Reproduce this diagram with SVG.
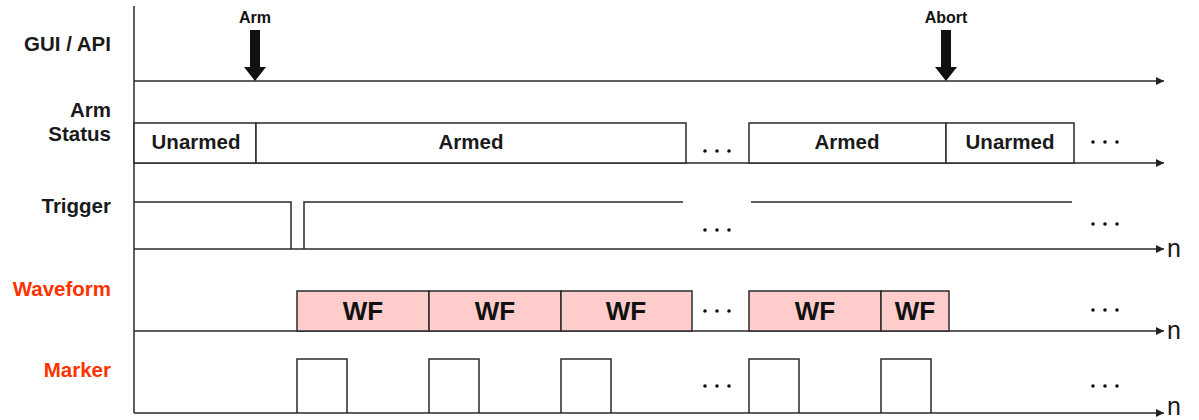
<svg xmlns="http://www.w3.org/2000/svg" width="1199" height="420" viewBox="0 0 1199 420">
  <defs>
    <marker id="axisHead" viewBox="0 0 10 10" refX="10" refY="5" markerWidth="9" markerHeight="8" markerUnits="userSpaceOnUse" orient="auto">
      <path d="M0,0 L10,5 L0,10 z" fill="#222"/>
    </marker>
    <style>
      .ln { fill: none; stroke: #2a2a2a; stroke-width: 1.5; }
      .axis { fill: none; stroke: #2a2a2a; stroke-width: 1.5; marker-end: url(#axisHead); }
      .box { fill: #ffffff; stroke: #2a2a2a; stroke-width: 1.5; }
      .wf { fill: #ffcccc; stroke: #2a2a2a; stroke-width: 1.5; }
      .lbl { font-family: "Liberation Sans", Arial, sans-serif; font-size: 20.5px; font-weight: bold; fill: #1a1a1a; text-anchor: end; }
      .red { fill: #ff3300; }
      .st { font-family: "Liberation Sans", Arial, sans-serif; font-size: 20.5px; font-weight: bold; fill: #1a1a1a; text-anchor: middle; }
      .wft { font-family: "Liberation Sans", Arial, sans-serif; font-size: 26px; font-weight: bold; fill: #111; text-anchor: middle; }
      .evt { font-family: "Liberation Sans", Arial, sans-serif; font-size: 16px; font-weight: bold; fill: #111; text-anchor: middle; }
      .n { font-family: "Liberation Sans", Arial, sans-serif; font-size: 25px; fill: #1a1a1a; }
      .dot { fill: #111; }
    </style>
  </defs>

  <!-- row labels -->
  <g id="row-labels">
    <text class="lbl" x="111" y="51">GUI / API</text>
    <text class="lbl" x="111" y="117">Arm</text>
    <text class="lbl" x="111" y="141">Status</text>
    <text class="lbl" x="111" y="213">Trigger</text>
    <text class="lbl red" x="111" y="296">Waveform</text>
    <text class="lbl red" x="111" y="377">Marker</text>
  </g>

  <!-- time axes -->
  <g id="axes">
    <line class="ln" x1="134" y1="6" x2="134" y2="413"/>
    <line class="axis" x1="134" y1="81" x2="1164" y2="81"/>
    <line class="axis" x1="134" y1="163" x2="1164" y2="163"/>
    <line class="axis" x1="134" y1="249" x2="1164" y2="249"/>
    <line class="axis" x1="134" y1="331" x2="1164" y2="331"/>
    <line class="axis" x1="134" y1="413" x2="1164" y2="413"/>
    <text class="n" x="1167" y="257">n</text>
    <text class="n" x="1167" y="339">n</text>
    <text class="n" x="1167" y="415">n</text>
  </g>

  <!-- GUI / API events -->
  <g id="event-arm">
    <text class="evt" x="255" y="23">Arm</text>
    <polygon points="250,30 260,30 260,67 266,67 255,81 244,67 250,67" fill="#111"/>
  </g>
  <g id="event-abort">
    <text class="evt" x="946" y="23">Abort</text>
    <polygon points="941,30 951,30 951,67 957,67 946,81 935,67 941,67" fill="#111"/>
  </g>

  <!-- arm status states -->
  <g id="arm-status">
    <rect class="box" x="134" y="123" width="122" height="40"/>
    <text class="st" x="196" y="149">Unarmed</text>
    <rect class="box" x="256" y="123" width="430" height="40"/>
    <text class="st" x="471" y="149">Armed</text>
    <rect class="box" x="749" y="123" width="197" height="40"/>
    <text class="st" x="847" y="149">Armed</text>
    <rect class="box" x="946" y="123" width="128" height="40"/>
    <text class="st" x="1010" y="149">Unarmed</text>
  </g>

  <!-- trigger signal -->
  <g id="trigger">
    <path class="ln" d="M134,202 H291 V249 M304,249 V202 H683"/>
    <line class="ln" x1="751" y1="202" x2="1072" y2="202"/>
  </g>

  <!-- waveform blocks -->
  <g id="waveforms">
    <rect class="wf" x="297" y="291" width="132" height="40"/>
    <text class="wft" x="363" y="320">WF</text>
    <rect class="wf" x="429" y="291" width="132" height="40"/>
    <text class="wft" x="495" y="320">WF</text>
    <rect class="wf" x="561" y="291" width="131" height="40"/>
    <text class="wft" x="626" y="320">WF</text>
    <rect class="wf" x="749" y="291" width="132" height="40"/>
    <text class="wft" x="815" y="320">WF</text>
    <rect class="wf" x="881" y="291" width="68" height="40"/>
    <text class="wft" x="915" y="320">WF</text>
  </g>

  <!-- marker pulses -->
  <g id="markers">
    <path class="ln" d="M297,413 V359 H347 V413"/>
    <path class="ln" d="M429,413 V359 H479 V413"/>
    <path class="ln" d="M561,413 V359 H611 V413"/>
    <path class="ln" d="M749,413 V359 H799 V413"/>
    <path class="ln" d="M881,413 V359 H931 V413"/>
  </g>

  <!-- continuation ellipses -->
  <g id="ellipses">
    <circle class="dot" cx="705" cy="151" r="1.8"/><circle class="dot" cx="717" cy="151" r="1.8"/><circle class="dot" cx="729" cy="151" r="1.8"/>
    <circle class="dot" cx="1093" cy="142" r="1.8"/><circle class="dot" cx="1105" cy="142" r="1.8"/><circle class="dot" cx="1117" cy="142" r="1.8"/>
    <circle class="dot" cx="705" cy="230" r="1.8"/><circle class="dot" cx="717" cy="230" r="1.8"/><circle class="dot" cx="729" cy="230" r="1.8"/>
    <circle class="dot" cx="1093" cy="224" r="1.8"/><circle class="dot" cx="1105" cy="224" r="1.8"/><circle class="dot" cx="1117" cy="224" r="1.8"/>
    <circle class="dot" cx="705" cy="311" r="1.8"/><circle class="dot" cx="717" cy="311" r="1.8"/><circle class="dot" cx="729" cy="311" r="1.8"/>
    <circle class="dot" cx="1093" cy="310" r="1.8"/><circle class="dot" cx="1105" cy="310" r="1.8"/><circle class="dot" cx="1117" cy="310" r="1.8"/>
    <circle class="dot" cx="705" cy="386" r="1.8"/><circle class="dot" cx="717" cy="386" r="1.8"/><circle class="dot" cx="729" cy="386" r="1.8"/>
    <circle class="dot" cx="1093" cy="386" r="1.8"/><circle class="dot" cx="1105" cy="386" r="1.8"/><circle class="dot" cx="1117" cy="386" r="1.8"/>
  </g>
</svg>
